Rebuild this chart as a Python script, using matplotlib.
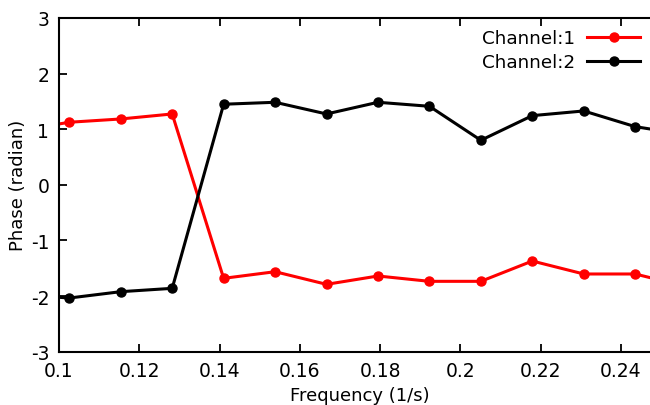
import numpy as np
import matplotlib
matplotlib.use('Agg')
import matplotlib.pyplot as plt

# frequency bins k/78 (1/s), one bin beyond each edge so lines run to the frame
bins = np.arange(7, 21)
freq = bins / 78.0

# phase per channel, radian
phase_ch1 = [0.97, 1.125, 1.184, 1.274, -1.681, -1.562, -1.789, -1.639,
             -1.735, -1.735, -1.370, -1.603, -1.603, -1.83]
phase_ch2 = [-1.97, -2.035, -1.921, -1.861, 1.449, 1.484, 1.274, 1.484,
             1.412, 0.801, 1.244, 1.328, 1.046, 0.90]

xticks = [0.1, 0.12, 0.14, 0.16, 0.18, 0.2, 0.22, 0.24]
xticklabels = ['0.1', '0.12', '0.14', '0.16', '0.18', '0.2', '0.22', '0.24']
yticks = [-3, -2, -1, 0, 1, 2, 3]

plt.rcParams['font.family'] = 'DejaVu Sans'
plt.rcParams['font.size'] = 12
plt.rcParams['axes.unicode_minus'] = False

fig = plt.figure(figsize=(6.5, 4.06), dpi=100)
ax = fig.add_axes([0.0908, 0.1313, 0.926, 0.822])

ax.plot(freq, phase_ch1, '-o', color='#ff0000', lw=2.2, ms=6.5,
        label='Channel:1', clip_on=True)
ax.plot(freq, phase_ch2, '-o', color='black', lw=2.2, ms=6.5,
        label='Channel:2', clip_on=True)

ax.set_xlim(0.1, 0.25)
ax.set_ylim(-3, 3)
ax.set_xticks(xticks)
ax.set_xticklabels(xticklabels)
ax.set_yticks(yticks)
ax.tick_params(direction='in', length=6, width=1.3, top=True, right=True,
               labelsize=13.5)
ax.tick_params(axis='x', pad=7)
ax.tick_params(axis='y', pad=7)
for s in ax.spines.values():
    s.set_linewidth(1.5)

ax.set_xlabel('Frequency (1/s)', fontsize=13, labelpad=4)
ax.set_ylabel('Phase (radian)', fontsize=13, labelpad=3)

ax.legend(loc='upper right', bbox_to_anchor=(0.999, 0.948),
          bbox_transform=fig.transFigure, frameon=False, markerfirst=False,
          fontsize=13.2, handlelength=2.9, handletextpad=0.65,
          borderpad=0, labelspacing=0.32)

fig.savefig('out.png', dpi=100)
